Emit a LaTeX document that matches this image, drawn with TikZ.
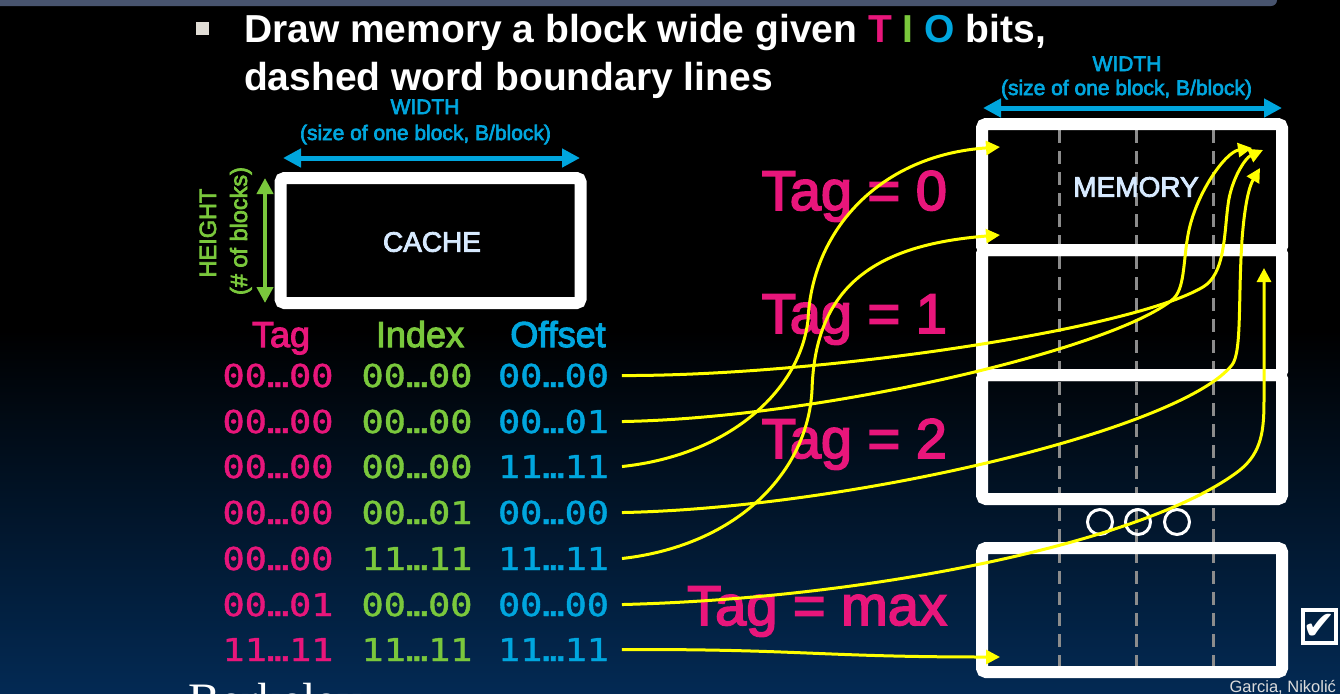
\documentclass[tikz,border=0pt]{standalone}
\usepackage{fontspec}
\setmainfont{Liberation Sans}
\newfontfamily\medfont[FakeBold=3]{Liberation Sans}
\newfontfamily\digitfont[FakeBold=1.2]{DejaVu Sans Mono}
\newfontfamily\berkfont{Liberation Serif}
\newfontfamily\symfont{DejaVu Sans}
\usetikzlibrary{arrows.meta}
\definecolor{tagpink}{RGB}{232,22,123}
\definecolor{idxgreen}{RGB}{122,200,60}
\definecolor{offcyan}{RGB}{0,166,222}
\definecolor{navy}{RGB}{3,42,84}
\definecolor{boxtext}{RGB}{215,234,255}
\definecolor{dashgray}{RGB}{140,140,140}
\definecolor{topbar}{RGB}{72,84,110}
\definecolor{bulletgray}{RGB}{224,220,213}
\definecolor{arrowyellow}{RGB}{255,255,0}
\definecolor{footgray}{RGB}{220,220,220}
\newcommand{\setfs}[1]{\fontsize{#1}{#1}\selectfont}
\begin{document}
\begin{tikzpicture}[x=0.5pt,y=-0.5pt,
  inner sep=0pt, outer sep=0pt,
  whitebox/.style={draw=white, line width=6pt, rounded corners=2pt, minimum width=150pt},
  wordline/.style={draw=dashgray, line width=1.5pt, dash pattern=on 6.5pt off 4pt},
  dotcircle/.style={circle, draw=white, line width=1.5pt, minimum size=12.5pt},
  yarrow/.style={draw=arrowyellow, line width=1.5pt, -{Triangle[length=7pt,width=7pt]}},
  widtharrow/.style={draw=offcyan, line width=2.5pt, {Triangle[length=9pt,width=9pt]}-{Triangle[length=9pt,width=9pt]}},
  heightarrow/.style={draw=idxgreen, line width=2pt, {Triangle[length=8pt,width=8pt]}-{Triangle[length=8pt,width=8pt]}},
  bits/.style={anchor=base, xscale=1.17, font=\digitfont\setfs{15.75}},
  header/.style={anchor=base, font=\medfont\setfs{18}},
  taglabel/.style={anchor=base east, text=tagpink, font=\medfont\setfs{28}},
  widthlabel/.style={anchor=base, text=offcyan, font=\medfont\setfs{10.5}},
  heightlabel/.style={anchor=base, rotate=90, text=idxgreen, font=\medfont\setfs{11.75}},
  boxlabel/.style={text=boxtext, font=\medfont\setfs{14}},
  titletext/.style={anchor=base west, text=white, font=\bfseries\setfs{19.5}}
]
\useasboundingbox (0,0) rectangle (1340,693);
% background
\fill[black] (0,0) rectangle (1340,693);
\shade[top color=black, bottom color=navy] (0,330) rectangle (1340,694);
\fill[topbar, rounded corners=3pt] (-10,-10) rectangle (1277,6);

% title
\node[fill=bulletgray, minimum size=6.5pt] (bullet) at (202.5,28.5) {};
\node[titletext] (title1) at (244,42) {Draw memory a block wide given \textcolor{tagpink}{T} \textcolor{idxgreen}{I} \textcolor{offcyan}{O} bits,};
\node[titletext] (title2) at (244,90) {dashed word boundary lines};

% cache
\node[whitebox, minimum height=62.5pt] (cache) at (430.5,240.5) {};
\node[boxlabel] (cachelbl) at (432,242) {CACHE};
\node[widthlabel] (cw1) at (425,114) {WIDTH};
\node[widthlabel] (cw2) at (425.5,140) {(size of one block, B/block)};
\coordinate (cwl) at (283,158);
\coordinate (cwr) at (580,158);
\draw[widtharrow] (cwl) -- (cwr);
\node[heightlabel] (ch1) at (216,233) {HEIGHT};
\node[heightlabel] (ch2) at (247,231) {(\# of blocks)};
\coordinate (cht) at (265,178);
\coordinate (chb) at (265,303);
\draw[heightarrow] (cht) -- (chb);

% headers
\node[header, text=tagpink] (htag) at (281,347) {Tag};
\node[header, text=idxgreen] (hidx) at (420,347) {Index};
\node[header, text=offcyan] (hoff) at (558,347) {Offset};

% address rows
\node[bits, text=tagpink] (t1) at (278,387) {00…00};
\node[bits, text=idxgreen] (i1) at (417,387) {00…00};
\node[bits, text=offcyan] (o1) at (553.5,387) {00…00};
\node[bits, text=tagpink] (t2) at (278,433) {00…00};
\node[bits, text=idxgreen] (i2) at (417,433) {00…00};
\node[bits, text=offcyan] (o2) at (553.5,433) {00…01};
\node[bits, text=tagpink] (t3) at (278,478) {00…00};
\node[bits, text=idxgreen] (i3) at (417,478) {00…00};
\node[bits, text=offcyan] (o3) at (553.5,478) {11…11};
\node[bits, text=tagpink] (t4) at (278,524) {00…00};
\node[bits, text=idxgreen] (i4) at (417,524) {00…01};
\node[bits, text=offcyan] (o4) at (553.5,524) {00…00};
\node[bits, text=tagpink] (t5) at (278,570) {00…00};
\node[bits, text=idxgreen] (i5) at (417,570) {11…11};
\node[bits, text=offcyan] (o5) at (553.5,570) {11…11};
\node[bits, text=tagpink] (t6) at (278,616) {00…01};
\node[bits, text=idxgreen] (i6) at (417,616) {00…00};
\node[bits, text=offcyan] (o6) at (553.5,616) {00…00};
\node[bits, text=tagpink] (t7) at (278,661) {11…11};
\node[bits, text=idxgreen] (i7) at (417,661) {11…11};
\node[bits, text=offcyan] (o7) at (553.5,661) {11…11};

% memory
\foreach \xx/\nm in {1059/a,1136/b,1213/c}{
  \coordinate (wt\nm) at (\xx,130);
  \coordinate (wb\nm) at (\xx,666);
  \draw[wordline] (wt\nm) -- (wb\nm);
}
\node[whitebox, minimum height=63pt] (mem1) at (1132,187) {};
\node[whitebox, minimum height=62.5pt] (mem2) at (1132,312.5) {};
\node[whitebox, minimum height=62pt] (mem3) at (1132,437) {};
\node[whitebox, minimum height=62pt] (mem4) at (1132,610) {};
\node[dotcircle] (c1) at (1100,522) {};
\node[dotcircle] (c2) at (1138,522) {};
\node[dotcircle] (c3) at (1177,522) {};
\node[boxlabel] (memlbl) at (1136,187) {MEMORY};
\node[widthlabel] (mw1) at (1127,71) {WIDTH};
\node[widthlabel] (mw2) at (1126.5,95) {(size of one block, B/block)};
\coordinate (mwl) at (983,108);
\coordinate (mwr) at (1282,108);
\draw[widtharrow] (mwl) -- (mwr);

% tag labels
\node[taglabel] (tag0) at (947,210) {Tag = 0};
\node[taglabel] (tag1) at (947,333) {Tag = 1};
\node[taglabel] (tag2) at (947,458) {Tag = 2};
\node[taglabel] (tagmax) at (947,625) {Tag = max};

% arrow targets
\coordinate (e1) at (1263,150);
\coordinate (e2) at (1252,148);
\coordinate (e3) at (1000,147);
\coordinate (e4) at (1260,168);
\coordinate (e5) at (1000,235);
\coordinate (e6) at (1264,268);
\coordinate (e7) at (1000,657);

\draw[yarrow] ([xshift=6.5pt]o1.east) .. controls (820,376) and (1130,330) .. (1203,287)
  .. controls (1225,274) and (1224,235) .. (1228,205)
  .. controls (1231,180) and (1245,158) .. (e1);
\draw[yarrow] ([xshift=6.5pt]o2.east) .. controls (820,418) and (1110,350) .. (1172,300)
  .. controls (1185,290) and (1183,262) .. (1188,235)
  .. controls (1195,195) and (1225,152) .. (e2);
\draw[yarrow] ([xshift=6.5pt]o3.east) .. controls (730,455) and (800,390) .. (808,320)
  .. controls (812,230) and (880,155) .. (e3);
\draw[yarrow] ([xshift=6.5pt]o4.east) .. controls (850,508) and (1180,430) .. (1232,365)
  .. controls (1242,352) and (1238,300) .. (1242,240)
  .. controls (1245,200) and (1250,185) .. (e4);
\draw[yarrow] ([xshift=6.5pt]o5.east) .. controls (740,545) and (808,470) .. (812,390)
  .. controls (815,290) and (870,245) .. (e5);
\draw[yarrow] ([xshift=6.5pt]o6.east) .. controls (880,598) and (1150,540) .. (1240,470)
  .. controls (1262,452) and (1264,430) .. (1264,400) -- (e6);
\draw[yarrow] ([xshift=6.5pt]o7.east) .. controls (800,649) and (820,657) .. (e7);

% check box and footer
\node[draw=white, line width=2pt, minimum size=16.5pt, text=white, font=\symfont\setfs{20}] (chk) at (1319.5,626.5) {✔};
\begin{scope}
\clip (0,0) rectangle (1340,693);
\node[anchor=base east, text=footgray, font=\setfs{8.25}] (credit) at (1336,692) {Garcia, Nikolić};
\node[anchor=base west, text=white, font=\berkfont\setfs{24}] (berk) at (188,716) {Berkeley};
\end{scope}
\end{tikzpicture}
\end{document}
